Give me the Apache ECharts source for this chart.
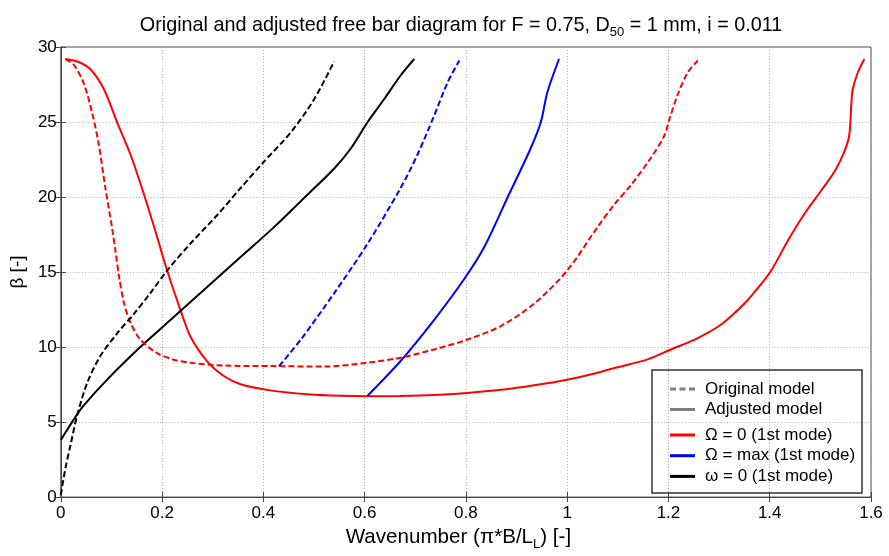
<!DOCTYPE html>
<html><head><meta charset="utf-8">
<script src="https://cdn.jsdelivr.net/npm/echarts@6/dist/echarts.min.js"></script>
<style>html,body{margin:0;padding:0;background:#fff}#c{width:889px;height:556px}</style>
</head><body><div id="c"></div>
<script>
// Ω = 0 (1st mode), adjusted model (solid red)
const omega0Adjusted = [[0.009,29.2],[0.035,29.0],[0.059,28.5],[0.085,27.2],[0.111,25.0],[0.138,22.8],[0.164,20.2],[0.187,17.7],[0.21,15.1],[0.236,12.5],[0.256,10.7],[0.289,9.05],[0.322,8.07],[0.355,7.52],[0.42,7.08],[0.487,6.86],[0.553,6.75],[0.606,6.72],[0.67,6.74],[0.737,6.8],[0.803,6.94],[0.87,7.15],[0.935,7.45],[1.0,7.82],[1.05,8.2],[1.093,8.6],[1.159,9.18],[1.205,9.84],[1.258,10.6],[1.304,11.5],[1.35,12.9],[1.383,14.2],[1.403,15.1],[1.436,17.1],[1.468,18.85],[1.501,20.4],[1.528,21.7],[1.547,23.0],[1.557,24.1],[1.561,26.1],[1.564,27.2],[1.574,28.3],[1.587,29.2]];
// Ω = 0 (1st mode), original model (dashed red)
const omega0Original = [[0.009,29.2],[0.026,28.8],[0.045,27.6],[0.062,25.6],[0.075,23.5],[0.088,20.6],[0.101,18.0],[0.108,16.4],[0.115,14.7],[0.125,12.9],[0.138,11.6],[0.157,10.5],[0.19,9.6],[0.223,9.16],[0.256,8.95],[0.322,8.77],[0.42,8.73],[0.52,8.7],[0.606,8.96],[0.671,9.29],[0.737,9.84],[0.803,10.5],[0.869,11.4],[0.935,12.9],[1.0,15.1],[1.06,18.0],[1.093,19.5],[1.126,20.8],[1.165,22.6],[1.192,24.1],[1.202,25.2],[1.218,26.8],[1.238,28.3],[1.258,29.1]];
// Ω = max (1st mode)
const omegaMaxOriginal = [[0.431,8.73],[0.474,10.5],[0.54,13.6],[0.606,16.9],[0.671,20.6],[0.704,22.8],[0.737,25.4],[0.764,27.65],[0.787,29.1]];
const omegaMaxAdjusted = [[0.606,6.76],[0.671,9.07],[0.737,11.8],[0.796,14.5],[0.836,16.65],[0.882,19.95],[0.928,23.25],[0.948,25.0],[0.961,27.0],[0.984,29.2]];
// ω = 0 (1st mode)
const smallOmegaOriginal = [[0.0,0.15],[0.009,1.9],[0.019,3.45],[0.032,5.4],[0.052,7.6],[0.078,9.4],[0.111,10.9],[0.144,12.2],[0.177,13.6],[0.21,15.1],[0.256,16.9],[0.309,18.8],[0.355,20.6],[0.401,22.35],[0.454,24.3],[0.5,26.5],[0.54,29.05]];
const smallOmegaAdjusted = [[0.0,3.8],[0.026,5.2],[0.045,6.1],[0.092,7.85],[0.157,10.0],[0.223,12.0],[0.289,14.0],[0.355,16.0],[0.42,17.96],[0.487,20.15],[0.54,21.9],[0.573,23.25],[0.606,25.0],[0.638,26.5],[0.671,28.1],[0.698,29.2]];

const modelNames = ['Original model','Adjusted model'];
const modeNames = ['\u03A9 = 0 (1st mode)','\u03A9 = max (1st mode)','\u03C9 = 0 (1st mode)'];
const xTicks = {min:0,max:1.6,interval:0.2};
const yTicks = {min:0,max:30,interval:5};

const FONT = 'Liberation Sans, Arial, sans-serif';
const dash = [6,3];
const ICON_SOLID = 'path://M0,0h25v3h-25z';
const ICON_DASH = 'path://M0,0h6v3h-6zM9.5,0h6v3h-6zM19,0h6v3h-6z';
function line(name,data,color,dashed){
  return {type:'line',name:name,data:data,showSymbol:false,symbol:'none',smooth:0.3,
    lineStyle:{color:color,width:2,type:dashed?dash:'solid'},itemStyle:{color:color},z:3,animation:false};
}
const legendCommon = {
  orient:'vertical',left:670,padding:0,itemWidth:25,itemHeight:3,
  textStyle:{fontFamily:FONT,fontSize:17,lineHeight:17,color:'#000',padding:[0,0,0,5]},
  itemStyle:{borderWidth:0},lineStyle:{width:0},
  selectedMode:false,z:11
};
const chart = echarts.init(document.getElementById('c'),null,{renderer:'canvas'});
const axisCommon = {
  axisLine:{show:true,lineStyle:{color:'#444',width:1}},
  axisTick:{show:true,inside:true,length:5,lineStyle:{color:'#444'}},
  splitLine:{show:true,lineStyle:{color:'#b0b0b0',type:[1,2],width:1}},
};
chart.setOption({
  backgroundColor:'#fff',
  animation:false,
  title:{
    text:'{a|Original and adjusted free bar diagram for F = 0.75, D}{s|50}{a| = 1 mm, i = 0.011}',
    left:456,top:7,textAlign:'center',
    textStyle:{fontWeight:'normal',rich:{a:{fontFamily:FONT,fontSize:19.8,fontWeight:'normal',color:'#000'},s:{fontFamily:FONT,fontSize:13,fontWeight:'normal',color:'#000',padding:[14,0,0,0]}}}
  },
  grid:{left:60,right:18,top:47,bottom:54,show:true,borderColor:'#444',borderWidth:1,backgroundColor:'#fff'},
  legend:[
    Object.assign({data:modelNames.map((n,i)=>({name:n,icon:i===0?ICON_DASH:ICON_SOLID})),top:380.5,itemGap:3.5},legendCommon),
    Object.assign({data:modeNames.map(n=>({name:n,icon:ICON_SOLID})),top:426.5,itemGap:3.7},legendCommon)
  ],
  graphic:[{type:'rect',shape:{x:652,y:370,width:210,height:123},style:{fill:'none',stroke:'#333',lineWidth:1.5},z:10}],
  xAxis:[
    Object.assign({type:'value',min:xTicks.min,max:xTicks.max,interval:xTicks.interval,
      name:'{a|Wavenumber (\u03C0*B/L}{s|L}{a|) [-]}',nameLocation:'middle',nameGap:25,
      nameTextStyle:{padding:[0,15,0,0],rich:{a:{fontFamily:FONT,fontSize:20.6,color:'#000'},s:{fontFamily:FONT,fontSize:13,color:'#000',padding:[14,0,0,0]}}},
      axisLabel:{fontFamily:FONT,fontSize:17,color:'#000',margin:8,formatter:v=>String(+v.toFixed(1))}},axisCommon),
    {type:'value',position:'top',min:xTicks.min,max:xTicks.max,interval:xTicks.interval,
      axisLine:{show:true,lineStyle:{color:'#444'}},axisTick:{show:true,inside:true,length:5,lineStyle:{color:'#444'}},
      axisLabel:{show:false},splitLine:{show:false}}
  ],
  yAxis:[
    Object.assign({type:'value',min:yTicks.min,max:yTicks.max,interval:yTicks.interval,
      name:'\u03B2 [-]',nameLocation:'middle',nameGap:31,nameRotate:90,
      nameTextStyle:{fontFamily:FONT,fontSize:19,color:'#000'},
      axisLabel:{fontFamily:FONT,fontSize:17,color:'#000',margin:4}},axisCommon),
    {type:'value',position:'right',min:yTicks.min,max:yTicks.max,interval:yTicks.interval,
      axisLine:{show:true,lineStyle:{color:'#444'}},axisTick:{show:true,inside:true,length:5,lineStyle:{color:'#444'}},
      axisLabel:{show:false},splitLine:{show:false}}
  ],
  series:[
    line(modelNames[0],[],'#808080',true),
    line(modelNames[1],[],'#808080',false),
    line(modeNames[0],omega0Adjusted,'#ff0000',false),
    line(modeNames[1],omegaMaxAdjusted,'#0000ff',false),
    line(modeNames[2],smallOmegaAdjusted,'#000000',false),
    line(modeNames[0],omega0Original,'#ff0000',true),
    line(modeNames[1],omegaMaxOriginal,'#0000ff',true),
    line(modeNames[2],smallOmegaOriginal,'#000000',true)
  ]
});
</script></body></html>
